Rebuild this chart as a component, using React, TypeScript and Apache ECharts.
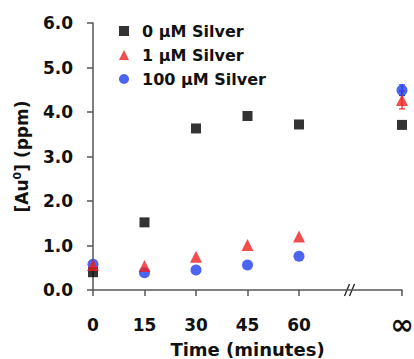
import React, { useEffect, useRef } from "react";
import * as echarts from "echarts";

const timeLabels = ["0", "15", "30", "45", "60", "∞"];
const timeValues = [0, 15, 30, 45, 60, 90];
const silver0 = [0.4, 1.52, 3.63, 3.91, 3.72, 3.71];
const silver1 = [0.56, 0.54, 0.75, 1.01, 1.2, 4.27];
const silver100 = [0.58, 0.39, 0.45, 0.56, 0.76, 4.49];
const err1 = [0, 0, 0, 0, 0, 0.2];
const err100 = [0, 0, 0, 0, 0, 0.12];
const yTicks = [0, 1, 2, 3, 4, 5, 6];
const breakAt = 75;

const FONT = "'DejaVu Sans', 'Liberation Sans', Arial, sans-serif";
const RED = "#ee2222";
const BLUE = "#1f3fee";

function pairs(vals: number[]) {
  return timeValues.map((t, i) => [t, vals[i]]);
}

function errSeries(vals: number[], errs: number[], color: string) {
  const data = timeValues
    .map((t, i) => [t, vals[i], errs[i]])
    .filter((d) => d[2] > 0);
  return {
    type: "custom",
    data,
    z: 1,
    silent: true,
    renderItem: (params: any, api: any) => {
      const x = api.value(0);
      const y = api.value(1);
      const e = api.value(2);
      const top = api.coord([x, y + e]);
      const bot = api.coord([x, y - e]);
      return {
        type: "group",
        children: [
          { type: "line", shape: { x1: top[0], y1: top[1], x2: bot[0], y2: bot[1] }, style: { stroke: color, lineWidth: 1.2 } },
          { type: "line", shape: { x1: top[0] - 3, y1: top[1], x2: top[0] + 3, y2: top[1] }, style: { stroke: color, lineWidth: 1.2 } },
          { type: "line", shape: { x1: bot[0] - 3, y1: bot[1], x2: bot[0] + 3, y2: bot[1] }, style: { stroke: color, lineWidth: 1.2 } },
        ],
      };
    },
  };
}

export default function App() {
  const ref = useRef<HTMLDivElement>(null);
  useEffect(() => {
    if (!ref.current) return;
    const chart = echarts.init(ref.current, undefined, { renderer: "svg" });
    const axisColor = "#555";
    chart.setOption({
      animation: false,
      backgroundColor: "#fff",
      textStyle: { fontFamily: FONT },
      grid: { left: 93, right: 12, top: 23, bottom: 69, containLabel: false, outerBoundsMode: "none" },
      legend: {
        orient: "vertical",
        left: 114,
        top: 18,
        itemGap: 8,
        itemWidth: 10,
        itemHeight: 10,
        textStyle: { fontFamily: FONT, fontWeight: "bold", fontSize: 16, color: "#111", padding: [0, 0, 0, 8] },
        data: ["0 μM Silver", "1 μM Silver", "100 μM Silver"],
      },
      xAxis: {
        type: "value",
        min: 0,
        max: 90,
        interval: 15,
        name: "Time (minutes)",
        nameLocation: "middle",
        nameGap: 50,
        nameMoveOverlap: false,
        nameTextStyle: { fontFamily: FONT, fontWeight: "bold", fontSize: 18, color: "#111" },
        splitLine: { show: false },
        axisLine: { lineStyle: { color: axisColor, width: 1.5 } },
        axisTick: { customValues: timeValues, length: 6, lineStyle: { color: axisColor, width: 1.5 } },
        axisLabel: {
          customValues: timeValues,
          margin: 26,
          fontFamily: FONT,
          fontWeight: "bold",
          fontSize: 17,
          color: "#111",
          formatter: (v: number) => {
            const i = timeValues.indexOf(v);
            const s = i >= 0 ? timeLabels[i] : "";
            return s === "∞" ? "{inf|∞}" : s;
          },
          rich: { inf: { fontSize: 28, lineHeight: 16, fontWeight: "bold", fontFamily: FONT, color: "#111" } },
        },
      },
      yAxis: {
        type: "value",
        min: 0,
        max: 6,
        interval: 1,
        name: "{a|[Au}{s|0}{a|] (ppm)}",
        nameLocation: "middle",
        nameGap: 62,
        nameTextStyle: {
          rich: {
            a: { fontFamily: FONT, fontWeight: "bold", fontSize: 17, color: "#111" },
            s: { fontFamily: FONT, fontWeight: "bold", fontSize: 11, color: "#111", verticalAlign: "top", padding: [0, 0, 8, 0] },
          },
        },
        splitLine: { show: false },
        axisLine: { show: true, lineStyle: { color: axisColor, width: 1.5 } },
        axisTick: { show: true, length: 6, lineStyle: { color: axisColor, width: 1.5 } },
        axisLabel: {
          margin: 20,
          fontFamily: FONT,
          fontWeight: "bold",
          fontSize: 17,
          color: "#111",
          formatter: (v: number) => (yTicks.indexOf(v) >= 0 ? v.toFixed(1) : ""),
        },
      },
      series: [
        errSeries(silver1, err1, RED),
        errSeries(silver100, err100, BLUE),
        {
          name: "0 μM Silver",
          type: "scatter",
          symbol: "rect",
          symbolSize: 10,
          itemStyle: { color: "#000" },
          data: pairs(silver0),
          z: 3,
        },
        {
          name: "100 μM Silver",
          type: "scatter",
          symbol: "circle",
          symbolSize: 11,
          itemStyle: { color: BLUE },
          data: pairs(silver100),
          z: 2,
        },
        {
          name: "1 μM Silver",
          type: "scatter",
          symbol: "triangle",
          symbolSize: 12,
          itemStyle: { color: RED },
          data: pairs(silver1),
          z: 4,
        },
      ],
    });
    const p = chart.convertToPixel({ xAxisIndex: 0, yAxisIndex: 0 }, [breakAt, 0]) as number[];
    if (p) {
      const [bx, by] = p;
      chart.setOption({
        graphic: [
          { type: "line", shape: { x1: bx - 6, y1: by + 6, x2: bx - 1, y2: by - 6 }, style: { stroke: "#222", lineWidth: 1.3 } },
          { type: "line", shape: { x1: bx - 1, y1: by + 6, x2: bx + 4, y2: by - 6 }, style: { stroke: "#222", lineWidth: 1.3 } },
        ],
      });
    }
    return () => chart.dispose();
  }, []);
  return <div ref={ref} style={{ width: 414, height: 359, position: "absolute", left: 0, top: 0 }} />;
}
